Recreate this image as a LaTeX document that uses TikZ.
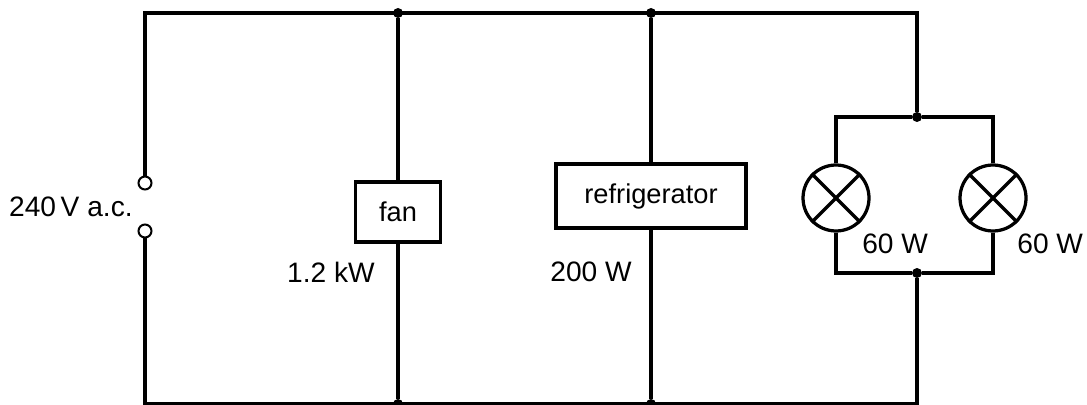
\documentclass[tikz,border=0pt]{standalone}
\usepackage{fontspec}
\setmainfont{Liberation Sans}
\usetikzlibrary{positioning}

\begin{document}
\begin{tikzpicture}[x=0.02cm,y=-0.02cm]
\tikzset{wire/.style={line width=0.065cm},
  junc/.style={circle,fill=black,inner sep=0pt,minimum size=0.2cm},
  term/.style={circle,draw,fill=white,line width=0.04cm,inner sep=0pt,minimum size=0.26cm},
  unit/.style={draw,line width=0.065cm,inner sep=0pt,font=\fontsize{15.5}{18}\selectfont},
  lamp/.style={circle,draw,line width=0.065cm,inner sep=0pt,minimum size=1.32cm},
  lbl/.style={font=\fontsize{16}{18}\selectfont,inner sep=0pt}}
\useasboundingbox (0,0) rectangle (1087,405);
% corners and junctions
\coordinate (tl) at (145,13);
\coordinate (bl) at (145,404);
\coordinate (tr) at (917,13);
\node[junc] (jt1) at (398,13) {};
\node[junc] (jt2) at (651,13) {};
\node[junc] (jb1) at (398,404) {};
\node[junc] (jb2) at (651,404) {};
\node[junc] (jlt) at (917,117) {};
\node[junc] (jlb) at (917,273) {};
\coordinate (bjl) at (917,404);
% supply terminals
\node[term] (ta) at (145,183) {};
\node[term] (tb) at (145,231) {};
\node[lbl,anchor=east] (vlab) at (133,207) {240\,V a.c.};
% fan and refrigerator
\node[unit,minimum width=1.7cm,minimum height=1.2cm] (fan) at (398,212) {fan};
\node[lbl,anchor=east] (fanlab) at (375,272) {1.2 kW};
\node[unit,minimum width=3.8cm,minimum height=1.28cm] (fridge) at (651,196) {refrigerator};
\node[lbl,anchor=east] (fridgelab) at (632,272) {200 W};
% lamps
\node[lamp] (lampa) at (836,198) {};
\node[lamp] (lampb) at (993,198) {};
\node[lbl,anchor=west] (lampalab) at (862,244) {60 W};
\node[lbl,anchor=west] (lampblab) at (1017,244) {60 W};
\foreach \l in {lampa,lampb}{
  \draw[wire] (\l.north west) -- (\l.south east);
  \draw[wire] (\l.north east) -- (\l.south west);
}
% wiring
\draw[wire] (ta) -- (tl) -- (tr) -- (jlt);
\draw[wire] (tb) -- (bl) -- (bjl) -- (jlb);
\draw[wire] (jt1) -- (fan) -- (jb1);
\draw[wire] (jt2) -- (fridge) -- (jb2);
\draw[wire] (lampa.north) |- (jlt) -| (lampb.north);
\draw[wire] (lampa.south) |- (jlb) -| (lampb.south);
\end{tikzpicture}
\end{document}
